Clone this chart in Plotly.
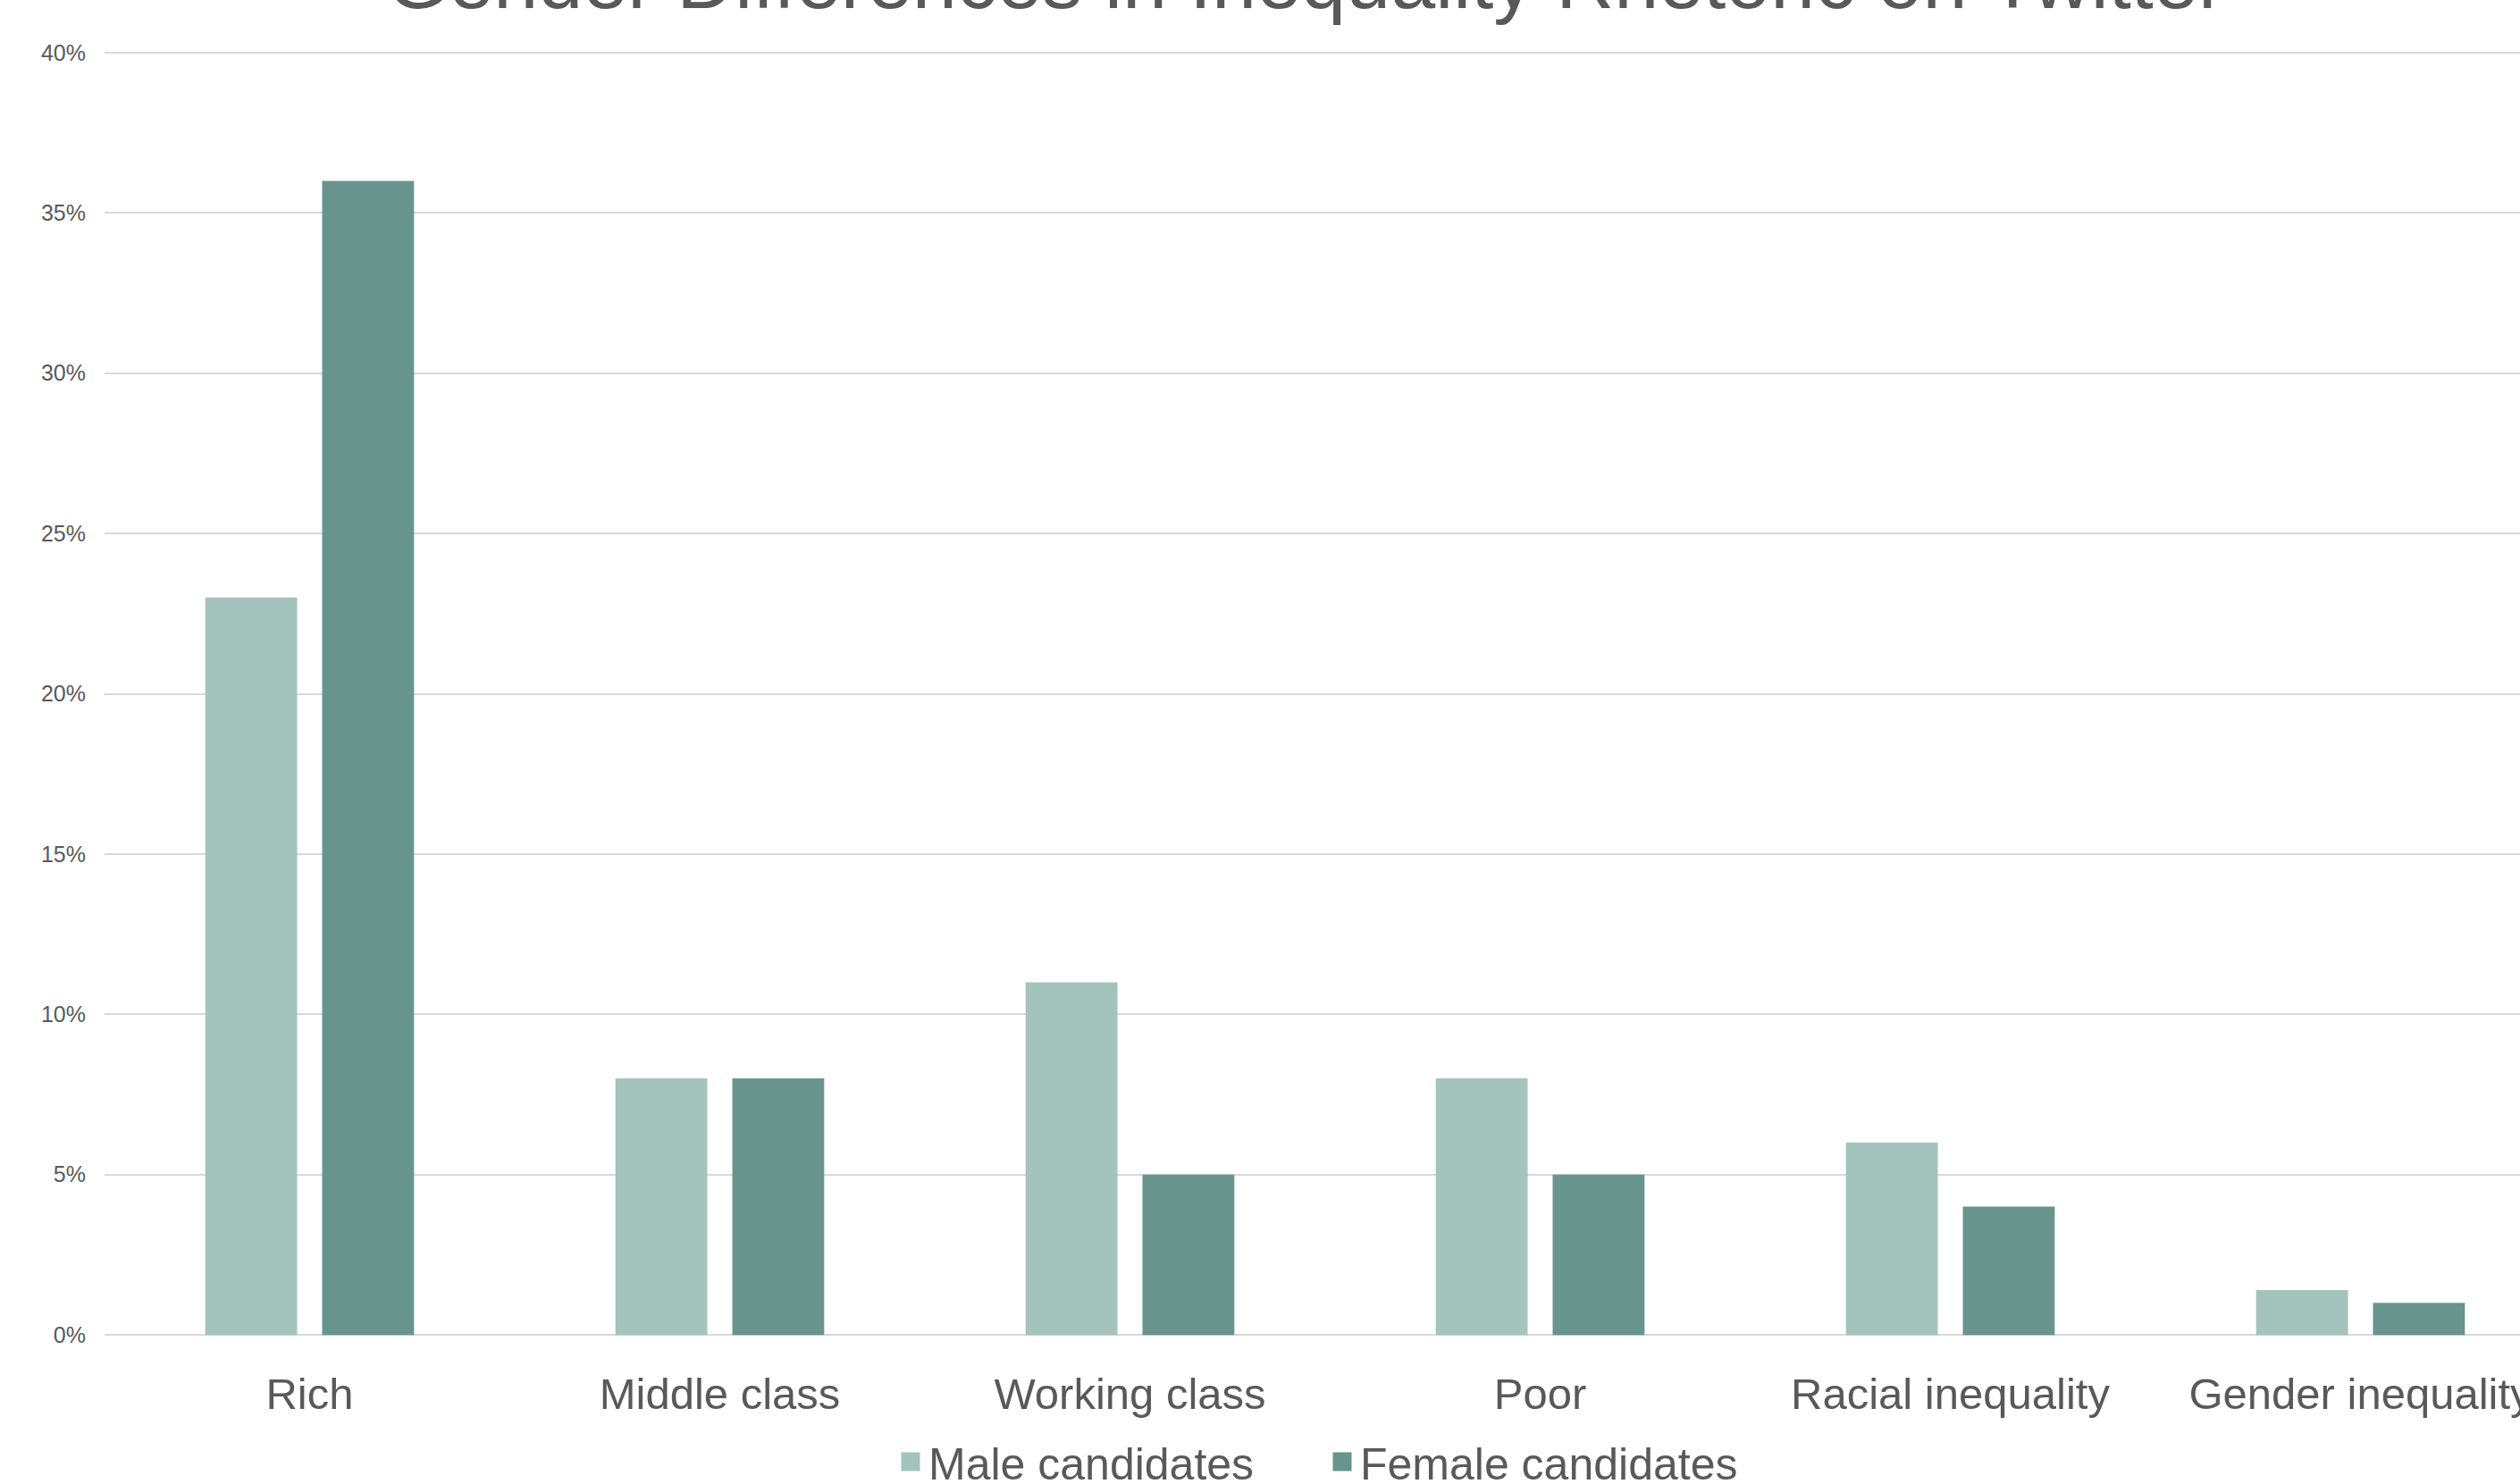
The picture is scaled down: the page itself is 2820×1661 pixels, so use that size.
import plotly.graph_objects as go

categories = ["Rich", "Middle class", "Working class", "Poor", "Racial inequality", "Gender inequality"]
male_values = [23, 8, 11, 8, 6, 1.4]
female_values = [36, 8, 5, 5, 4, 1.0]
series_names = ["Male candidates", "Female candidates"]
y_tick_values = [0, 5, 10, 15, 20, 25, 30, 35, 40]
y_tick_labels = ["0%", "5%", "10%", "15%", "20%", "25%", "30%", "35%", "40%"]

MALE_COLOR = "#A4C3BD"
FEMALE_COLOR = "#67958E"
TEXT_COLOR = "#595959"
FONT = "Liberation Sans, Arial, Helvetica, sans-serif"

W, H = 2820, 1661
fig = go.Figure()
fig.add_trace(go.Bar(x=categories, y=male_values, name=series_names[0], showlegend=False,
                     marker=dict(color=MALE_COLOR, line=dict(width=0))))
fig.add_trace(go.Bar(x=categories, y=female_values, name=series_names[1], showlegend=False,
                     marker=dict(color=FEMALE_COLOR, line=dict(width=0))))
# legend entries (square swatches, larger than the default bar swatch)
for name, color in zip(series_names, [MALE_COLOR, FEMALE_COLOR]):
    fig.add_trace(go.Scatter(x=[None], y=[None], mode="markers", name=name,
                             marker=dict(symbol="square", size=16, color=color,
                                         line=dict(width=5, color=color))))

fig.update_layout(
    width=W, height=H,
    margin=dict(l=117, r=0, t=56.1, b=164.1, autoexpand=False),
    paper_bgcolor="white", plot_bgcolor="white",
    font=dict(family=FONT, color=TEXT_COLOR),
    barmode="group", bargap=0.43, bargroupgap=0.214,
    title=dict(text="Gender Differences in Inequality Rhetoric on Twitter",
               font=dict(size=90, color=TEXT_COLOR, family=FONT),
               xref="container", x=1461 / W, xanchor="center",
               yref="container", y=1 - 9 / H, yanchor="bottom"),
    showlegend=True,
    legend=dict(orientation="h", xref="container", yref="container",
                x=1482 / W, xanchor="center", y=1 - 1636 / H, yanchor="middle",
                font=dict(size=50, color=TEXT_COLOR, family=FONT),
                entrywidth=438, entrywidthmode="pixels",
                bgcolor="rgba(0,0,0,0)"),
    xaxis=dict(range=[-0.5, -0.5 + 2703 / 459], showgrid=False, zeroline=False,
               showline=False, ticks="", tickfont=dict(size=49, color=TEXT_COLOR),
               ticklabelstandoff=30, fixedrange=True),
    yaxis=dict(range=[-0.08, 40.08], tickvals=y_tick_values, ticktext=y_tick_labels,
               showgrid=True, gridcolor="#D9D9D9", gridwidth=2, zeroline=False,
               showline=False, ticks="", tickfont=dict(size=25, color=TEXT_COLOR),
               ticklabelstandoff=20, fixedrange=True),
)

fig.write_html("out.html", config={"displayModeBar": False})
